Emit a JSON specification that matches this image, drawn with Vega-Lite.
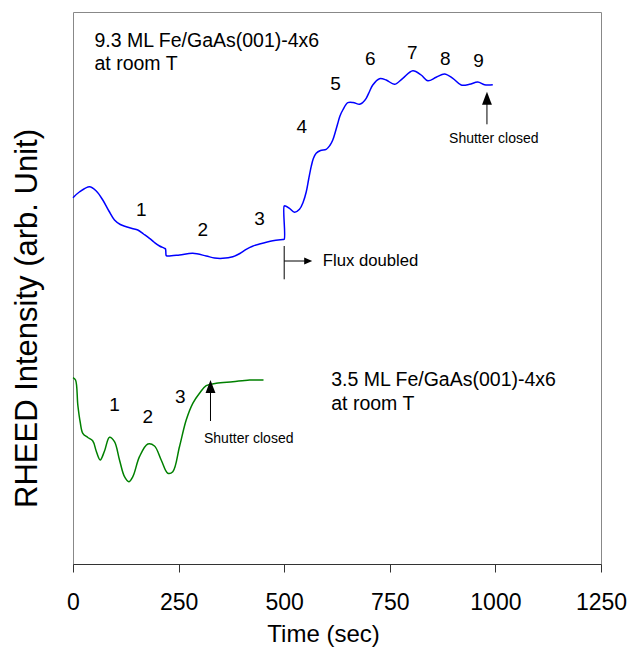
{
  "$schema": "https://vega.github.io/schema/vega-lite/v6.json",
  "width": 528,
  "height": 552,
  "autosize": "none",
  "padding": {"left": 73, "top": 12, "right": 28, "bottom": 83},
  "background": "white",
  "config": {
    "view": {"stroke": "#888888", "strokeWidth": 1},
    "font": "Liberation Sans",
    "text": {"font": "Liberation Sans", "color": "black"}
  },
  "layer": [
    {
      "data": {"values": [
        {"series": "9.3 ML", "t": 0, "v": 367.3},
        {"series": "9.3 ML", "t": 15, "v": 373},
        {"series": "9.3 ML", "t": 39.1, "v": 378.3},
        {"series": "9.3 ML", "t": 55, "v": 374},
        {"series": "9.3 ML", "t": 70.5, "v": 365},
        {"series": "9.3 ML", "t": 85, "v": 354},
        {"series": "9.3 ML", "t": 98.2, "v": 345},
        {"series": "9.3 ML", "t": 112, "v": 340.5},
        {"series": "9.3 ML", "t": 126, "v": 338.3},
        {"series": "9.3 ML", "t": 140, "v": 336.5},
        {"series": "9.3 ML", "t": 153.4, "v": 335},
        {"series": "9.3 ML", "t": 167, "v": 331},
        {"series": "9.3 ML", "t": 181.1, "v": 326.7},
        {"series": "9.3 ML", "t": 193, "v": 322.5},
        {"series": "9.3 ML", "t": 204.8, "v": 319},
        {"series": "9.3 ML", "t": 216.6, "v": 316.7},
        {"series": "9.3 ML", "t": 219, "v": 316},
        {"series": "9.3 ML", "t": 220.6, "v": 309.5},
        {"series": "9.3 ML", "t": 223, "v": 309},
        {"series": "9.3 ML", "t": 252.2, "v": 310},
        {"series": "9.3 ML", "t": 283.6, "v": 311.7},
        {"series": "9.3 ML", "t": 315.3, "v": 309},
        {"series": "9.3 ML", "t": 335, "v": 307},
        {"series": "9.3 ML", "t": 354.6, "v": 306.7},
        {"series": "9.3 ML", "t": 378.3, "v": 308.3},
        {"series": "9.3 ML", "t": 395, "v": 311.5},
        {"series": "9.3 ML", "t": 410, "v": 315.7},
        {"series": "9.3 ML", "t": 425, "v": 318.8},
        {"series": "9.3 ML", "t": 441.5, "v": 321},
        {"series": "9.3 ML", "t": 473, "v": 324.3},
        {"series": "9.3 ML", "t": 497, "v": 325.5},
        {"series": "9.3 ML", "t": 500, "v": 325.7},
        {"series": "9.3 ML", "t": 500, "v": 359},
        {"series": "9.3 ML", "t": 503, "v": 359},
        {"series": "9.3 ML", "t": 512.5, "v": 356.7},
        {"series": "9.3 ML", "t": 524.4, "v": 352.7},
        {"series": "9.3 ML", "t": 536.2, "v": 355.7},
        {"series": "9.3 ML", "t": 545, "v": 363},
        {"series": "9.3 ML", "t": 552.1, "v": 373},
        {"series": "9.3 ML", "t": 558, "v": 386},
        {"series": "9.3 ML", "t": 563.9, "v": 398.3},
        {"series": "9.3 ML", "t": 569, "v": 406.5},
        {"series": "9.3 ML", "t": 575.7, "v": 411.7},
        {"series": "9.3 ML", "t": 586, "v": 414.5},
        {"series": "9.3 ML", "t": 599.4, "v": 415.7},
        {"series": "9.3 ML", "t": 608, "v": 419.5},
        {"series": "9.3 ML", "t": 615, "v": 425},
        {"series": "9.3 ML", "t": 621, "v": 433},
        {"series": "9.3 ML", "t": 626.9, "v": 441.7},
        {"series": "9.3 ML", "t": 632, "v": 449},
        {"series": "9.3 ML", "t": 638.7, "v": 455},
        {"series": "9.3 ML", "t": 650.6, "v": 462.3},
        {"series": "9.3 ML", "t": 663, "v": 462.5},
        {"series": "9.3 ML", "t": 678.3, "v": 460.7},
        {"series": "9.3 ML", "t": 686, "v": 462.5},
        {"series": "9.3 ML", "t": 694.1, "v": 466.7},
        {"series": "9.3 ML", "t": 702, "v": 473.5},
        {"series": "9.3 ML", "t": 709.7, "v": 480},
        {"series": "9.3 ML", "t": 725.6, "v": 486.3},
        {"series": "9.3 ML", "t": 741.5, "v": 485},
        {"series": "9.3 ML", "t": 761.1, "v": 480.7},
        {"series": "9.3 ML", "t": 780.8, "v": 486.7},
        {"series": "9.3 ML", "t": 804.4, "v": 494.3},
        {"series": "9.3 ML", "t": 824.3, "v": 490},
        {"series": "9.3 ML", "t": 840, "v": 484.3},
        {"series": "9.3 ML", "t": 859.8, "v": 487.7},
        {"series": "9.3 ML", "t": 879.5, "v": 491},
        {"series": "9.3 ML", "t": 899.2, "v": 486.7},
        {"series": "9.3 ML", "t": 919, "v": 480},
        {"series": "9.3 ML", "t": 938.7, "v": 480.7},
        {"series": "9.3 ML", "t": 958.3, "v": 483},
        {"series": "9.3 ML", "t": 974.2, "v": 480.3},
        {"series": "9.3 ML", "t": 993.8, "v": 480.3},
        {"series": "3.5 ML", "t": 0, "v": 187.3},
        {"series": "3.5 ML", "t": 6, "v": 185},
        {"series": "3.5 ML", "t": 11.4, "v": 160},
        {"series": "3.5 ML", "t": 17, "v": 143},
        {"series": "3.5 ML", "t": 23.2, "v": 131.7},
        {"series": "3.5 ML", "t": 35, "v": 127.5},
        {"series": "3.5 ML", "t": 46.9, "v": 124},
        {"series": "3.5 ML", "t": 54.9, "v": 114},
        {"series": "3.5 ML", "t": 64.4, "v": 105},
        {"series": "3.5 ML", "t": 74.6, "v": 114},
        {"series": "3.5 ML", "t": 86.4, "v": 127.7},
        {"series": "3.5 ML", "t": 98.2, "v": 123.3},
        {"series": "3.5 ML", "t": 110.1, "v": 105},
        {"series": "3.5 ML", "t": 121.9, "v": 88.3},
        {"series": "3.5 ML", "t": 132.1, "v": 83.3},
        {"series": "3.5 ML", "t": 141.6, "v": 88.3},
        {"series": "3.5 ML", "t": 157.4, "v": 108.3},
        {"series": "3.5 ML", "t": 177.1, "v": 121},
        {"series": "3.5 ML", "t": 192.9, "v": 119},
        {"series": "3.5 ML", "t": 208.8, "v": 105},
        {"series": "3.5 ML", "t": 224.4, "v": 91.7},
        {"series": "3.5 ML", "t": 236.3, "v": 93.3},
        {"series": "3.5 ML", "t": 252.1, "v": 118.3},
        {"series": "3.5 ML", "t": 268, "v": 145},
        {"series": "3.5 ML", "t": 283.6, "v": 161.7},
        {"series": "3.5 ML", "t": 299.5, "v": 171.7},
        {"series": "3.5 ML", "t": 315.3, "v": 179.3},
        {"series": "3.5 ML", "t": 339, "v": 181.7},
        {"series": "3.5 ML", "t": 378.3, "v": 183.3},
        {"series": "3.5 ML", "t": 417.9, "v": 185},
        {"series": "3.5 ML", "t": 451, "v": 185}
      ]},
      "mark": {"type": "line", "strokeWidth": 1.5, "interpolate": "catmull-rom"},
      "encoding": {
        "x": {"field": "t", "type": "quantitative", "scale": {"domain": [0, 1250], "nice": false, "zero": false},
          "axis": {"values": [0, 250, 500, 750, 1000, 1250], "format": "d", "labelFlush": false, "labelOverlap": false, "grid": false, "domainColor": "#333333", "tickColor": "#333333", "tickSize": 8,
            "labelFontSize": 23, "labelFont": "Liberation Sans", "labelColor": "black", "labelBaseline": "alphabetic", "labelPadding": 37,
            "title": "Time (sec)", "titleFontSize": 24, "titleFont": "Liberation Sans", "titleFontWeight": "normal", "titleColor": "black",
            "titleBaseline": "alphabetic", "titleY": 77, "titleX": 250}},
        "y": {"field": "v", "type": "quantitative", "scale": {"domain": [1, 553], "nice": false, "zero": false},
          "axis": {"domain": false, "ticks": false, "labels": false, "grid": false,
            "title": "RHEED Intensity (arb. Unit)", "titleFontSize": 31, "titleFont": "Liberation Sans", "titleFontWeight": "normal", "titleColor": "black",
            "titleBaseline": "alphabetic", "titleX": -37, "titleY": 306, "titleAngle": -90}},
        "color": {"field": "series", "type": "nominal", "scale": {"domain": ["9.3 ML", "3.5 ML"], "range": ["#0000ff", "#008000"]}, "legend": null},
        "order": {"value": null}
      }
    },
    {
      "data": {"values": [
        {"x": 980, "y": 440.7, "x2": 980, "y2": 462},
        {"x": 325.5, "y": 144, "x2": 325.5, "y2": 172},
        {"x": 500, "y": 285.7, "x2": 500, "y2": 319},
        {"x": 500, "y": 304, "x2": 550, "y2": 304}
      ]},
      "mark": {"type": "rule", "color": "black", "strokeWidth": 1},
      "encoding": {
        "x": {"field": "x", "type": "quantitative"},
        "y": {"field": "y", "type": "quantitative"},
        "x2": {"field": "x2"},
        "y2": {"field": "y2"}
      }
    },
    {
      "data": {"values": [
        {"x": 980, "y": 473.3},
        {"x": 325.5, "y": 185}
      ]},
      "mark": {"type": "point", "shape": "M0,0L-0.38,1L0.38,1Z", "size": 676, "filled": true, "color": "black", "opacity": 1, "strokeWidth": 0},
      "encoding": {
        "x": {"field": "x", "type": "quantitative"},
        "y": {"field": "y", "type": "quantitative"}
      }
    },
    {
      "data": {"values": [
        {"x": 566.3, "y": 304}
      ]},
      "mark": {"type": "point", "shape": "M0,0L-1,-0.45L-1,0.45Z", "size": 256, "filled": true, "color": "black", "opacity": 1, "strokeWidth": 0},
      "encoding": {
        "x": {"field": "x", "type": "quantitative"},
        "y": {"field": "y", "type": "quantitative"}
      }
    },
    {
      "data": {"values": [
        {"label": "9.3 ML Fe/GaAs(001)-4x6", "x": 50.9, "y": 523.7},
        {"label": "at room T", "x": 50.9, "y": 501.1},
        {"label": "3.5 ML Fe/GaAs(001)-4x6", "x": 611.3, "y": 185.3},
        {"label": "at room T", "x": 611.3, "y": 161.3}
      ]},
      "mark": {"type": "text", "fontSize": 19.5, "align": "left", "baseline": "middle"},
      "encoding": {
        "x": {"field": "x", "type": "quantitative"},
        "y": {"field": "y", "type": "quantitative"},
        "text": {"field": "label"}
      }
    },
    {
      "data": {"values": [
        {"label": "1", "x": 161.5, "y": 355},
        {"label": "2", "x": 307.3, "y": 335},
        {"label": "3", "x": 441.5, "y": 345.7},
        {"label": "4", "x": 541.7, "y": 438.3},
        {"label": "5", "x": 621.4, "y": 481},
        {"label": "6", "x": 703.6, "y": 505.7},
        {"label": "7", "x": 803, "y": 511.7},
        {"label": "8", "x": 881.1, "y": 506},
        {"label": "9", "x": 960, "y": 504},
        {"label": "1", "x": 98.2, "y": 160},
        {"label": "2", "x": 177.1, "y": 147.7},
        {"label": "3", "x": 253.8, "y": 168.3}
      ]},
      "mark": {"type": "text", "fontSize": 19, "align": "center", "baseline": "middle"},
      "encoding": {
        "x": {"field": "x", "type": "quantitative"},
        "y": {"field": "y", "type": "quantitative"},
        "text": {"field": "label"}
      }
    },
    {
      "data": {"values": [
        {"label": "Flux doubled", "x": 591.4, "y": 304}
      ]},
      "mark": {"type": "text", "fontSize": 16.7, "align": "left", "baseline": "middle"},
      "encoding": {
        "x": {"field": "x", "type": "quantitative"},
        "y": {"field": "y", "type": "quantitative"},
        "text": {"field": "label"}
      }
    },
    {
      "data": {"values": [
        {"label": "Shutter closed", "x": 996.2, "y": 425.7},
        {"label": "Shutter closed", "x": 416, "y": 126}
      ]},
      "mark": {"type": "text", "fontSize": 14, "align": "center", "baseline": "middle"},
      "encoding": {
        "x": {"field": "x", "type": "quantitative"},
        "y": {"field": "y", "type": "quantitative"},
        "text": {"field": "label"}
      }
    }
  ]
}
